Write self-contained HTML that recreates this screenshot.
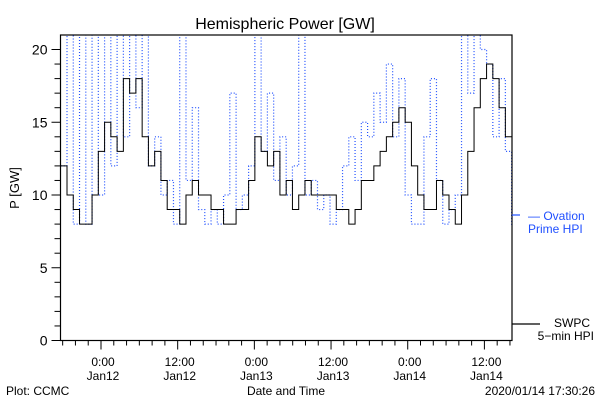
<!DOCTYPE html>
<html><head><meta charset="utf-8"><style>
html,body{margin:0;padding:0;background:#fff;}
svg{display:block;font-family:"Liberation Sans",sans-serif;}
</style></head><body>
<svg id="chart" width="600" height="400" viewBox="0 0 600 400">
<rect x="0" y="0" width="600" height="400" fill="#fff"/>
<text x="285" y="29" font-size="16" text-anchor="middle">Hemispheric Power [GW]</text>
<text x="19" y="188" font-size="13" text-anchor="middle" transform="rotate(-90 19 188)">P [GW]</text>
<defs><clipPath id="pc"><rect x="60.5" y="35" width="451.5" height="305.5"/></clipPath></defs>
<g id="series" clip-path="url(#pc)"></g>
<g id="axes"></g>
<line x1="512" y1="215" x2="520" y2="215" stroke="#1f4fff" stroke-width="1.2"/>
<text x="528" y="220" font-size="12" fill="#1f4fff">— Ovation</text>
<text x="528" y="233" font-size="12" fill="#1f4fff">Prime HPI</text>
<line x1="512" y1="324" x2="540" y2="324" stroke="#000" stroke-width="1.2"/>
<text x="590" y="327" font-size="12" text-anchor="end">SWPC</text>
<text x="594" y="340" font-size="12" text-anchor="end">5−min HPI</text>
<text x="6" y="395" font-size="12">Plot: CCMC</text>
<text x="286" y="395" font-size="12" text-anchor="middle">Date and Time</text>
<text x="595" y="395" font-size="12" text-anchor="end">2020/01/14 17:30:26</text>
</svg>
<script>
const tStart = -6.3;
const tStep = 0.98;
const swpcValues = [12,10,9,8,8,10,13,15,14,13,18,17,18,14,12,13,11,9,9,8,10,11,10,10,9,9,8,8,9,9,11,14,13,12,13,10,11,9,10,11,10,10,10,10,9,9,8,9,11,11,12,13,14,15,16,15,12,10,9,9,11,10,9,8,10,13,16,18,19,18,16,14,14];
const ovationValues = [12,21,8,21,8,21,10,21,12,21,14,21,16,21,12,14,10,11,8,21,11,16,9,8,9,8,10,17,9,10,12,21,13,17,11,14,10,12,21,10,11,9,10,8,9,12,14,11,15,14,17,15,19,14,18,10,8,8,14,18,11,8,9,10,21,17,21,20,19,14,18,13,8];
const yTicks = [0,5,10,15,20];
const xTickHours = [0,12,24,36,48,60];
const xTickTimes = ["0:00","12:00","0:00","12:00","0:00","12:00"];
const xTickDays = ["Jan12","Jan12","Jan13","Jan13","Jan14","Jan14"];

const L=60.5,R=512,T=35,B=340.5;
const x0=101, pxh=6.39;
function xs(h){return x0+h*pxh;}
function ys(v){return B-v*14.55;}
const NS="http://www.w3.org/2000/svg";
const series=document.getElementById('series');
const axes=document.getElementById('axes');
function mk(tag,attrs,parent){const e=document.createElementNS(NS,tag);for(const k in attrs)e.setAttribute(k,attrs[k]);parent.appendChild(e);return e;}

// ovation dotted step
let pts=[];
ovationValues.forEach((v,i)=>{const h0=tStart+i*tStep,h1=h0+tStep;pts.push(xs(h0)+','+ys(v));pts.push(xs(h1)+','+ys(v));});
const ov=mk('polyline',{points:pts.join(' '),fill:'none',stroke:'#1f4fff','stroke-width':'1.2','stroke-dasharray':'1 2'},series);



// swpc step
let sp=[];
swpcValues.forEach((v,i)=>{const h0=tStart+i*tStep,h1=h0+tStep;sp.push(xs(h0)+','+ys(v));sp.push(xs(h1)+','+ys(v));});
const sw=mk('polyline',{points:sp.join(' '),fill:'none',stroke:'#000','stroke-width':'1'},series);



// frame
const fr=mk('rect',{x:L,y:T,width:R-L,height:B-T,fill:'none',stroke:'#000','stroke-width':'1.2'},axes);



// y ticks
for(let v=0;v<=20;v++){
  const y=ys(v);const major=v%5===0;
  const t=mk('line',{x1:L-(major?9:6),x2:L,y1:y,y2:y,stroke:'#000','stroke-width':'1'},axes);
  
  
}
yTicks.forEach(v=>{
  const t=mk('text',{x:L-13,y:ys(v)+5,'font-size':'14','text-anchor':'end'},axes);
  t.textContent=v;
  
  
});
// x ticks
for(let h=-6;h<=64;h+=2){
  const x=xs(h);const major=h%12===0;
  const t=mk('line',{x1:x,x2:x,y1:B,y2:B+(major?9:5),stroke:'#000','stroke-width':'1'},axes);
  
  
}
xTickHours.forEach((h,i)=>{
  const a=mk('text',{x:xs(h)+2,y:366,'font-size':'12','text-anchor':'middle'},axes);
  a.textContent=xTickTimes[i];
  
  
  const b=mk('text',{x:xs(h)+2,y:380,'font-size':'12','text-anchor':'middle'},axes);
  b.textContent=xTickDays[i];
  
  
});
</script>
</body></html>
